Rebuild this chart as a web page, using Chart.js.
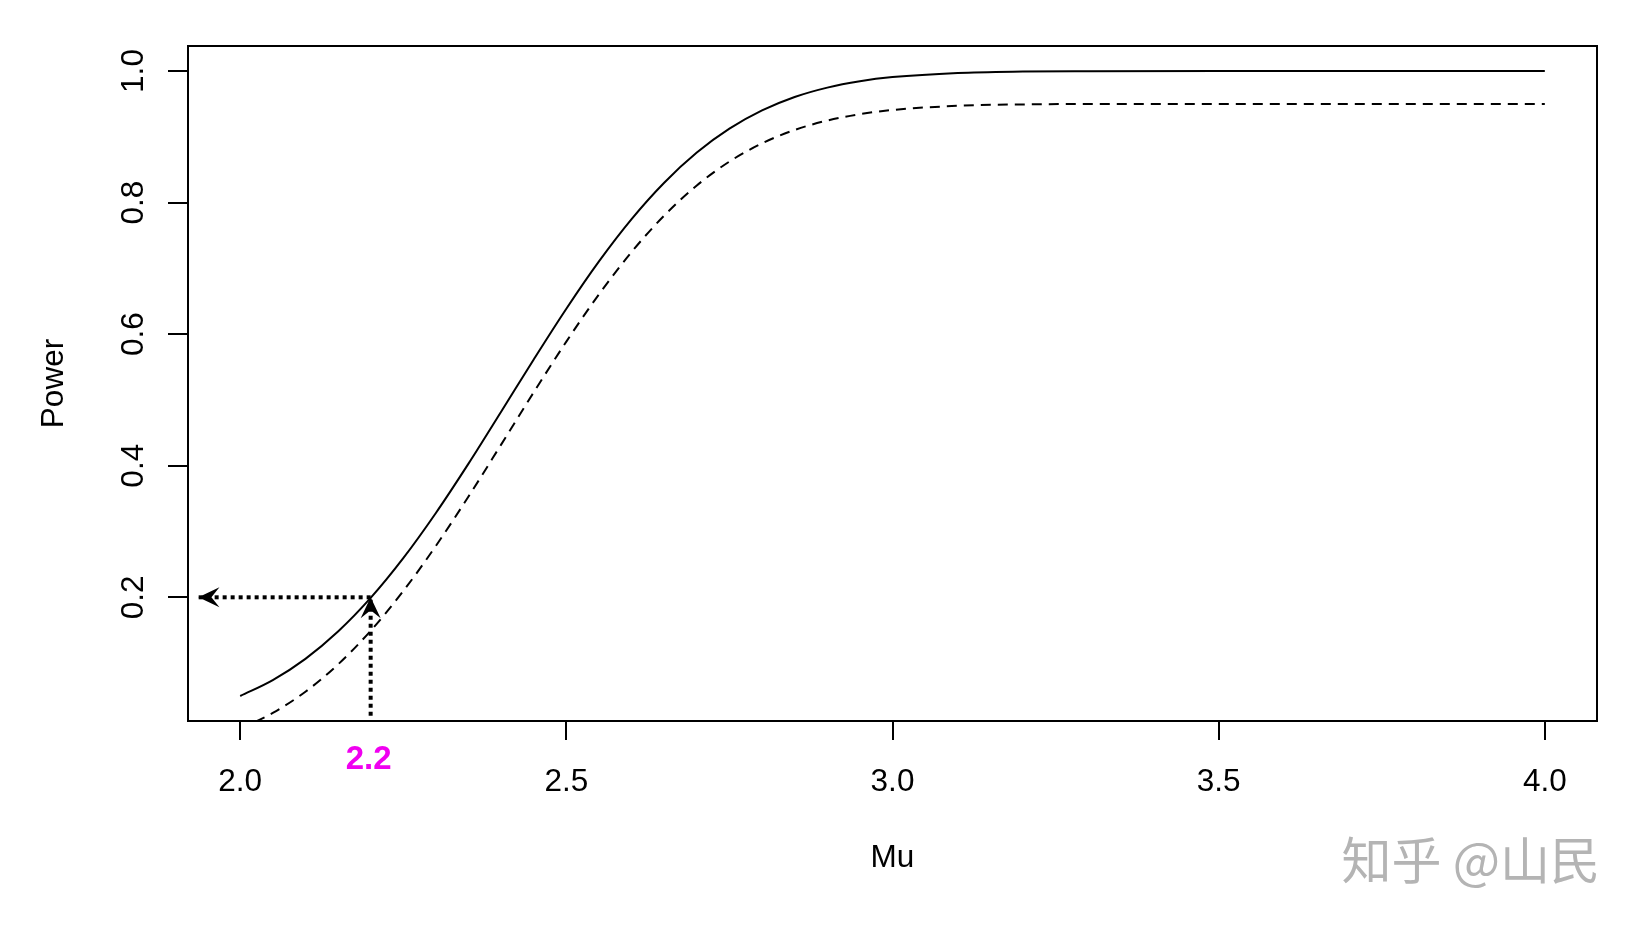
<!DOCTYPE html>
<html>
<head>
<meta charset="utf-8">
<script src="https://cdn.jsdelivr.net/npm/chart.js@4.4.1/dist/chart.umd.min.js"></script>
<style>
  html, body { margin: 0; padding: 0; background: #fff; }
  #wrap { width: 1638px; height: 926px; }
</style>
</head>
<body>
<div id="wrap"><canvas id="powerChart" width="1638" height="926"></canvas></div>
<script>
// values
var mu = [2.00, 2.05, 2.10, 2.15, 2.20, 2.25, 2.30, 2.35, 2.40, 2.45, 2.50, 2.55, 2.60,
          2.65, 2.70, 2.75, 2.80, 2.85, 2.90, 2.95, 3.00, 3.10, 3.20, 3.30, 3.50, 4.00];
var powerSolid = [0.0500, 0.0742, 0.1065, 0.1480, 0.1991, 0.2595, 0.3282, 0.4032, 0.4821,
                  0.5616, 0.6387, 0.7106, 0.7749, 0.8302, 0.8760, 0.9123, 0.9400, 0.9604,
                  0.9747, 0.9844, 0.9907, 0.9971, 0.9992, 0.9998, 1.0000, 1.0000];
var powerDashed = [0.0000, 0.0242, 0.0565, 0.0980, 0.1491, 0.2095, 0.2782, 0.3532, 0.4321,
                   0.5116, 0.5887, 0.6606, 0.7249, 0.7802, 0.8260, 0.8623, 0.8900, 0.9104,
                   0.9247, 0.9344, 0.9407, 0.9471, 0.9492, 0.9498, 0.9500, 0.9500];

// dotted arrows: up from the axis to the curve, then left to the y axis
var arrowUpX = [2.2, 2.2];
var arrowUpY = [0.02, 0.2];
var arrowLeftX = [2.2, 1.936];
var arrowLeftY = [0.2, 0.2];

var xTicks = [2.0, 2.5, 3.0, 3.5, 4.0];
var yTicks = [0.2, 0.4, 0.6, 0.8, 1.0];
var xLabels = ["2.0", "2.5", "3.0", "3.5", "4.0"];
var yLabels = ["0.2", "0.4", "0.6", "0.8", "1.0"];
var markValue = 2.2;
var markLabel = "2.2";

function toPoints(xs, ys) {
    return xs.map(function (x, i) { return {x: x, y: ys[i]}; });
}

var FONT = '"Liberation Sans", Arial, Helvetica, sans-serif';

// box, rotated y labels, axis titles, arrow heads, watermark
var rDecor = {
    id: 'rDecor',
    afterDraw: function (chart) {
        var ctx = chart.ctx;
        var a = chart.chartArea;
        var xs = chart.scales.x, ys = chart.scales.y;
        ctx.save();

        ctx.strokeStyle = '#000';
        ctx.lineWidth = 2;
        ctx.strokeRect(a.left, a.top, a.right - a.left, a.bottom - a.top);

        ctx.fillStyle = '#000';
        ctx.font = '31.5px ' + FONT;
        ctx.textAlign = 'center';
        ctx.textBaseline = 'alphabetic';
        xTicks.forEach(function (v, i) {
            ctx.fillText(xLabels[i], xs.getPixelForValue(v), 791);
        });
        yTicks.forEach(function (v, i) {
            ctx.save();
            ctx.translate(143, ys.getPixelForValue(v));
            ctx.rotate(-Math.PI / 2);
            ctx.fillText(yLabels[i], 0, 0);
            ctx.restore();
        });

        ctx.font = '31.5px ' + FONT;
        ctx.fillText('Mu', (a.left + a.right) / 2, 867);
        ctx.save();
        ctx.translate(63, (a.top + a.bottom) / 2);
        ctx.rotate(-Math.PI / 2);
        ctx.fillText('Power', 0, 0);
        ctx.restore();

        ctx.fillStyle = '#f000f0';
        ctx.font = 'bold 33px ' + FONT;
        ctx.fillText(markLabel, xs.getPixelForValue(markValue) - 2, 769);

        // arrow heads
        ctx.fillStyle = '#000';
        function head(tx, ty, dx, dy) {
            var len = 21, half = 10, notch = 13;
            var px = -dy, py = dx;
            ctx.beginPath();
            ctx.moveTo(tx, ty);
            ctx.lineTo(tx - dx * len + px * half, ty - dy * len + py * half);
            ctx.lineTo(tx - dx * notch, ty - dy * notch);
            ctx.lineTo(tx - dx * len - px * half, ty - dy * len - py * half);
            ctx.closePath();
            ctx.fill();
        }
        head(xs.getPixelForValue(arrowLeftX[1]), ys.getPixelForValue(arrowLeftY[1]), -1, 0);
        head(xs.getPixelForValue(arrowUpX[1]), ys.getPixelForValue(arrowUpY[1]), 0, -1);

        ctx.fillStyle = '#b4b4b4';
        ctx.font = '50px "Noto Sans CJK SC", sans-serif';
        ctx.textAlign = 'right';
        ctx.textBaseline = 'middle';
        ctx.fillText('知乎 @山民', 1600, 860);

        ctx.restore();
    }
};

var ctx = document.getElementById("powerChart");
var powerChart = new Chart(ctx, {
    type: 'line',
    data: {
        datasets: [{
            data: toPoints(mu, powerSolid),
            borderColor: '#000',
            borderWidth: 2,
            pointRadius: 0,
            cubicInterpolationMode: 'monotone'
        }, {
            data: toPoints(mu, powerDashed),
            borderColor: '#000',
            borderWidth: 2,
            borderDash: [10, 7],
            pointRadius: 0,
            cubicInterpolationMode: 'monotone'
        }, {
            data: toPoints(arrowUpX, arrowUpY),
            borderColor: '#000',
            borderWidth: 4,
            borderDash: [4, 4],
            pointRadius: 0
        }, {
            data: toPoints(arrowLeftX, arrowLeftY),
            borderColor: '#000',
            borderWidth: 4,
            borderDash: [4, 4],
            pointRadius: 0
        }]
    },
    options: {
        responsive: false,
        animation: false,
        devicePixelRatio: 1,
        events: [],
        layout: { padding: { top: 46, right: 41, left: 0, bottom: 0 } },
        plugins: {
            legend: { display: false },
            tooltip: { enabled: false }
        },
        scales: {
            x: {
                type: 'linear',
                min: 1.92,
                max: 4.08,
                afterBuildTicks: function (scale) {
                    scale.ticks = xTicks.map(function (v) { return {value: v}; });
                },
                afterFit: function (scale) { scale.height = 205; },
                grid: {
                    drawOnChartArea: false,
                    drawTicks: true,
                    tickLength: 19,
                    color: '#000',
                    lineWidth: 2
                },
                border: { display: false },
                ticks: { display: false }
            },
            y: {
                type: 'linear',
                min: 0.012,
                max: 1.038,
                afterBuildTicks: function (scale) {
                    scale.ticks = yTicks.map(function (v) { return {value: v}; });
                },
                afterFit: function (scale) { scale.width = 188; },
                grid: {
                    drawOnChartArea: false,
                    drawTicks: true,
                    tickLength: 20,
                    color: '#000',
                    lineWidth: 2
                },
                border: { display: false },
                ticks: { display: false }
            }
        }
    },
    plugins: [rDecor]
});
</script>
</body>
</html>
